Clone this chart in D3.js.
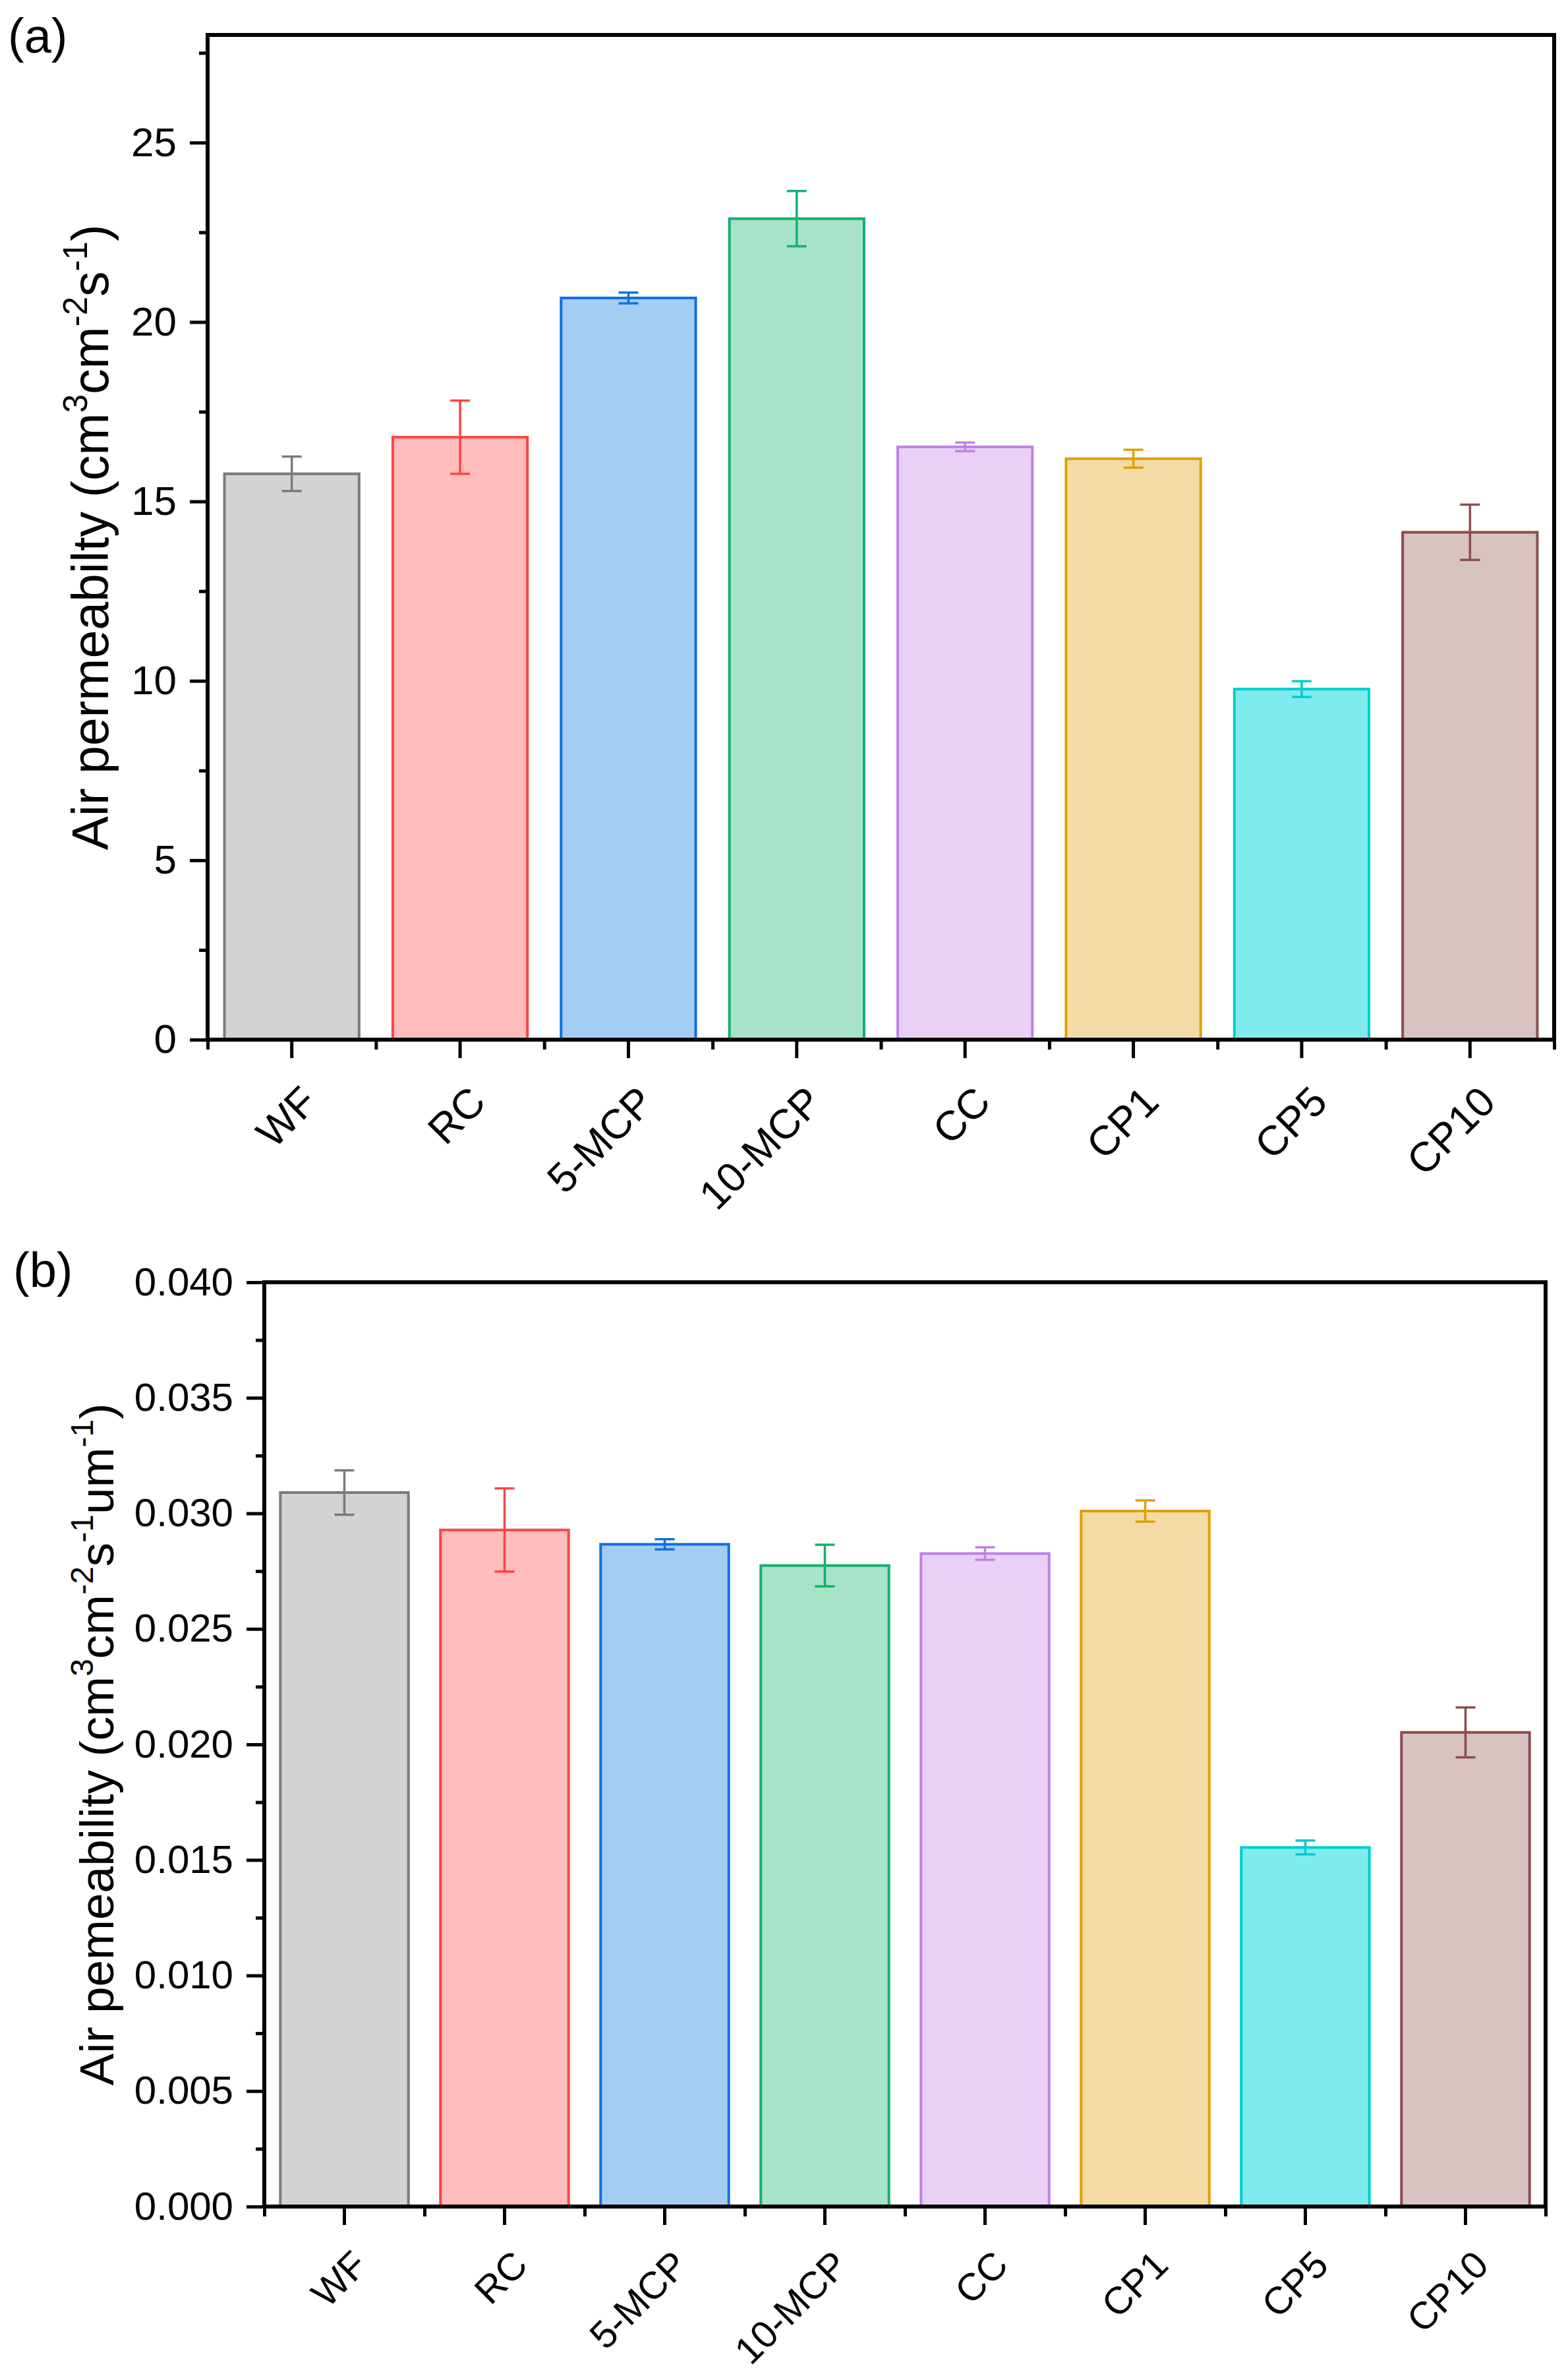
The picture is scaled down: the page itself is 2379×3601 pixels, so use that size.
<!DOCTYPE html>
<html>
<head>
<meta charset="utf-8">
<script src="https://cdn.jsdelivr.net/npm/d3@7"></script>
<style>
  body { margin: 0; background: #fff; }
  text { font-family: "Liberation Sans", Arial, sans-serif; fill: #000; }
</style>
</head>
<body>
<div id="chart"></div>
<script>
// samples (same order in both panels)
var categories = ["WF", "RC", "5-MCP", "10-MCP", "CC", "CP1", "CP5", "CP10"];

// (a) air permeability, cm3 cm-2 s-1
var permA = [15.77, 16.79, 20.67, 22.88, 16.52, 16.19, 9.77, 14.14];
var errA  = [0.48, 1.02, 0.15, 0.77, 0.12, 0.25, 0.22, 0.77];

// (b) air permeability per thickness, cm3 cm-2 s-1 um-1
var permB = [0.0309, 0.02928, 0.02866, 0.02774, 0.02826, 0.0301, 0.01554, 0.02052];
var errB  = [0.00096, 0.0018, 0.00022, 0.0009, 0.00027, 0.00046, 0.0003, 0.00108];

var ticksA = [0, 5, 10, 15, 20, 25];
var ticksB = [0, 0.005, 0.01, 0.015, 0.02, 0.025, 0.03, 0.035, 0.04];

var fills   = ["#d3d3d3", "#ffbcbc", "#a3cdf3", "#a6e3c9", "#e9d0f4", "#f4dba6", "#7eecee", "#d8c2c2"];
var strokes = ["#7a7a7a", "#ff4444", "#1070e0", "#14b06e", "#c080e6", "#e0a000", "#00cccc", "#8b4d50"];

var W = 2379, H = 3601;

var svg = d3.select("#chart").append("svg")
    .attr("width", W)
    .attr("height", H);

function drawPanel(cfg) {
  var g = svg.append("g");

  var x = d3.scaleBand()
      .domain(categories)
      .range([cfg.left, cfg.right])
      .paddingInner(0.2)
      .paddingOuter(0.1);

  // band edges for the short x ticks
  var xEdge = d3.scaleLinear().domain([0, categories.length]).range([cfg.left, cfg.right]);

  var y = d3.scaleLinear()
      .domain([0, cfg.yMax])
      .range([cfg.bottom, cfg.top]);

  var minors = cfg.ticks.slice(0, -1).map(function (t, i) {
    return (t + cfg.ticks[i + 1]) / 2;
  });
  if (cfg.extraMinor) minors.push(cfg.extraMinor);

  // bars
  g.selectAll("rect.bar")
    .data(categories)
    .enter().append("rect")
      .attr("class", "bar")
      .attr("x", function (d) { return x(d); })
      .attr("width", x.bandwidth())
      .attr("y", function (d, i) { return y(cfg.values[i]); })
      .attr("height", function (d, i) { return y(0) - y(cfg.values[i]); })
      .attr("fill", function (d, i) { return fills[i]; })
      .attr("stroke", function (d, i) { return strokes[i]; })
      .attr("stroke-width", 4);

  // error bars
  var eb = g.selectAll("g.err")
    .data(categories)
    .enter().append("g")
      .attr("class", "err")
      .attr("stroke", function (d, i) { return strokes[i]; })
      .attr("stroke-width", 3.5);
  eb.append("line")
      .attr("x1", function (d) { return x(d) + x.bandwidth() / 2; })
      .attr("x2", function (d) { return x(d) + x.bandwidth() / 2; })
      .attr("y1", function (d, i) { return y(cfg.values[i] - cfg.errors[i]); })
      .attr("y2", function (d, i) { return y(cfg.values[i] + cfg.errors[i]); });
  [1, -1].forEach(function (s) {
    eb.append("line")
        .attr("x1", function (d) { return x(d) + x.bandwidth() / 2 - 15; })
        .attr("x2", function (d) { return x(d) + x.bandwidth() / 2 + 15; })
        .attr("y1", function (d, i) { return y(cfg.values[i] + s * cfg.errors[i]); })
        .attr("y2", function (d, i) { return y(cfg.values[i] + s * cfg.errors[i]); });
  });

  // y axis
  var yMajor = g.append("g")
      .attr("transform", "translate(" + cfg.left + ",0)")
      .call(d3.axisLeft(y).tickValues(cfg.ticks).tickSize(27).tickPadding(20).tickFormat(cfg.fmt));
  var yMinor = g.append("g")
      .attr("transform", "translate(" + cfg.left + ",0)")
      .call(d3.axisLeft(y).tickValues(minors).tickSize(13).tickFormat(""));

  // x axis
  var xMajor = g.append("g")
      .attr("transform", "translate(0," + cfg.bottom + ")")
      .call(d3.axisBottom(x).tickSize(28).tickSizeOuter(0));
  var xMinor = g.append("g")
      .attr("transform", "translate(0," + cfg.bottom + ")")
      .call(d3.axisBottom(xEdge).tickValues(d3.range(categories.length + 1)).tickSize(15).tickFormat(""));

  [yMajor, yMinor, xMajor, xMinor].forEach(function (a) {
    a.select(".domain").remove();
    a.selectAll("line").attr("stroke", "#000").attr("stroke-width", 5);
  });

  yMajor.selectAll("text")
      .style("font-size", cfg.tickFont + "px");

  xMajor.selectAll("text")
      .style("font-size", cfg.catFont + "px")
      .attr("text-anchor", "end")
      .attr("y", null)
      .attr("dy", null)
      .attr("transform", "translate(" + cfg.labDx + "," + cfg.labDy + ") rotate(-45)");

  // frame
  g.append("rect")
      .attr("x", cfg.left)
      .attr("y", cfg.top)
      .attr("width", cfg.right - cfg.left)
      .attr("height", cfg.bottom - cfg.top)
      .attr("fill", "none")
      .attr("stroke", "#000")
      .attr("stroke-width", 6);

  // y title with superscripts (the shift back down sits on the next text run)
  var supSize = Math.round(cfg.titleFont * 0.66);
  var raise = Math.round(cfg.titleFont * 0.42);
  var t = g.append("text")
      .attr("transform", "translate(" + cfg.titleX + "," + (cfg.top + cfg.bottom) / 2 + ") rotate(-90)")
      .attr("text-anchor", "middle")
      .style("font-size", cfg.titleFont + "px");
  var raised = false;
  cfg.title.forEach(function (p) {
    if (p.sup) {
      t.append("tspan").attr("dy", -raise).style("font-size", supSize + "px").text(p.sup);
      raised = true;
    } else {
      t.append("tspan").attr("dy", raised ? raise : null).text(p.txt);
      raised = false;
    }
  });

  // panel letter
  g.append("text")
      .attr("x", cfg.letterX)
      .attr("y", cfg.letterY)
      .style("font-size", "74px")
      .text(cfg.letter);
}

drawPanel({
  left: 315, right: 2358, top: 53, bottom: 1577,
  yMax: 28, ticks: ticksA, extraMinor: 27.5, fmt: d3.format("d"),
  values: permA, errors: errA,
  tickFont: 62, catFont: 63, labDx: 42, labDy: 98,
  titleX: 164, titleFont: 77,
  title: [{txt: "Air permeabilty (cm"}, {sup: "3"}, {txt: "cm"}, {sup: "-2"}, {txt: "s"}, {sup: "-1"}, {txt: ")"}],
  letter: "(a)", letterX: 12, letterY: 80
});

drawPanel({
  left: 401, right: 2345, top: 1945, bottom: 3347,
  yMax: 0.04, ticks: ticksB, fmt: d3.format(".3f"),
  values: permB, errors: errB,
  tickFont: 60, catFont: 58, labDx: 38, labDy: 92,
  titleX: 172, titleFont: 73,
  title: [{txt: "Air pemeability (cm"}, {sup: "3"}, {txt: "cm"}, {sup: "-2"}, {txt: "s"}, {sup: "-1"}, {txt: "um"}, {sup: "-1"}, {txt: ")"}],
  letter: "(b)", letterX: 20, letterY: 1952
});
</script>
</body>
</html>
